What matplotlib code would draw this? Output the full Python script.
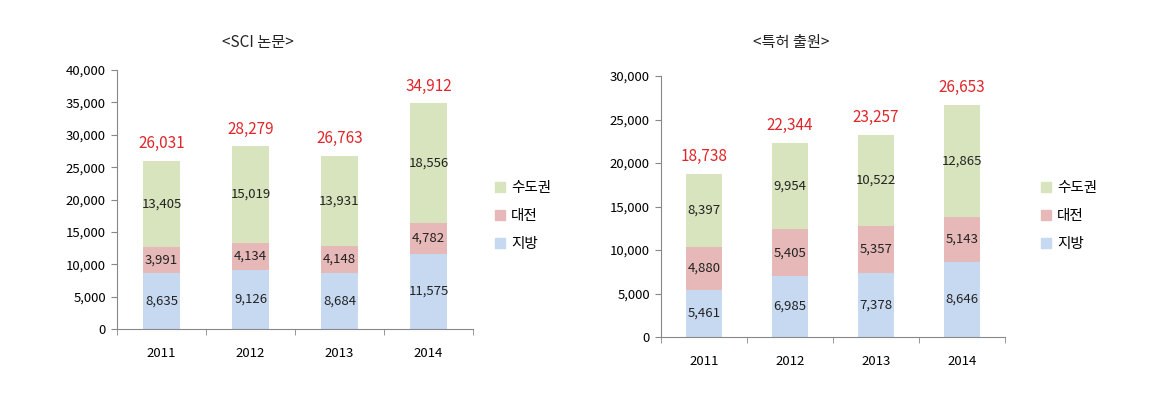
import matplotlib.pyplot as plt
import numpy as np
from matplotlib.patches import Patch

plt.rcParams['font.family'] = ['Noto Sans CJK KR', 'DejaVu Sans']

years = ["2011", "2012", "2013", "2014"]
series_names = ["수도권", "대전", "지방"]
colors = {"수도권": "#D7E4BD", "대전": "#E6B9B8", "지방": "#C6D9F1"}

sci_local = [8635, 9126, 8684, 11575]
sci_daejeon = [3991, 4134, 4148, 4782]
sci_capital = [13405, 15019, 13931, 18556]
sci_total = [26031, 28279, 26763, 34912]

pat_local = [5461, 6985, 7378, 8646]
pat_daejeon = [4880, 5405, 5357, 5143]
pat_capital = [8397, 9954, 10522, 12865]
pat_total = [18738, 22344, 23257, 26653]


def draw(ax, local, daejeon, capital, total, ymax, step, offset):
    x = np.arange(len(years))
    w = 0.41
    b1 = ax.bar(x, local, w, color=colors["지방"])
    b2 = ax.bar(x, daejeon, w, bottom=local, color=colors["대전"])
    bottom2 = np.array(local) + np.array(daejeon)
    b3 = ax.bar(x, capital, w, bottom=bottom2, color=colors["수도권"])
    for bars in (b1, b2, b3):
        ax.bar_label(bars, labels=[f"{v:,}" for v in bars.datavalues],
                     label_type="center", fontsize=9.5, color="#222222")
    for xi, t in zip(x, total):
        ax.text(xi, t + offset, f"{t:,}", ha="center", va="bottom",
                color="#E0262A", fontsize=11)
    ax.set_xlim(-0.5, len(years) - 0.5)
    ax.set_ylim(0, ymax)
    ax.set_yticks(np.arange(0, ymax + 1, step))
    ax.yaxis.set_major_formatter(plt.FuncFormatter(lambda v, p: f"{int(v):,}"))
    ax.set_xticks(x)
    ax.set_xticklabels(years)
    ax.set_xticks(np.arange(-0.5, len(years)), minor=True)
    ax.tick_params(axis="x", which="major", length=0, pad=13, labelsize=9.5)
    ax.tick_params(axis="x", which="minor", length=4, color="#888888")
    ax.tick_params(axis="y", length=4, color="#888888", labelsize=9.5, pad=4)
    for s in ("top", "right"):
        ax.spines[s].set_visible(False)
    for s in ("left", "bottom"):
        ax.spines[s].set_color("#888888")


fig = plt.figure(figsize=(11.56, 4.11), dpi=100)
ax1 = fig.add_axes([0.1012, 0.1995, 0.308, 0.630])
ax2 = fig.add_axes([0.5718, 0.180, 0.2976, 0.635])

draw(ax1, sci_local, sci_daejeon, sci_capital, sci_total, 40000, 5000, 1300)
draw(ax2, pat_local, pat_daejeon, pat_capital, pat_total, 30000, 5000, 1000)

fig.text(258 / 1156, 1 - 42 / 411, "<SCI 논문>", ha="center", va="center",
         fontsize=11, color="#222222")
fig.text(791 / 1156, 1 - 42 / 411, "<특허 출원>", ha="center", va="center",
         fontsize=11, color="#222222")

handles = [Patch(color=colors[n]) for n in series_names]
for xpos in (0.417, 0.889):
    fig.legend(handles, series_names, loc="center left", bbox_to_anchor=(xpos, 0.474),
               frameon=False, handlelength=0.7, handleheight=0.7, handletextpad=0.4,
               labelspacing=0.95, fontsize=10.5)

fig.savefig("out.png", dpi=100)
